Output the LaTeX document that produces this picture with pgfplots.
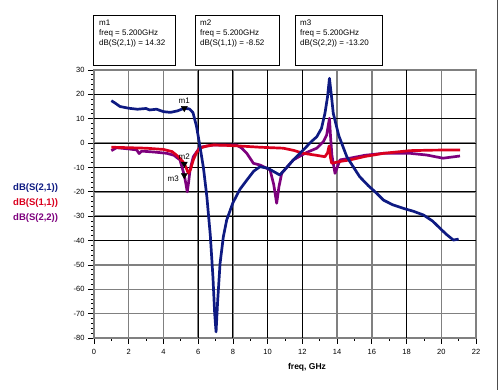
\documentclass[border=0pt]{standalone}
\usepackage{pgfplots}
\pgfplotsset{compat=1.18}
\usepackage{fontspec}
\setmainfont{Liberation Sans}
\definecolor{sblue}{RGB}{14,26,130}
\definecolor{sred}{RGB}{218,0,30}
\definecolor{spurple}{RGB}{125,0,125}
\definecolor{grgray}{RGB}{128,128,128}
\begin{document}
\begin{tikzpicture}
\useasboundingbox (0pt,0pt) rectangle (500pt,390pt);
\begin{axis}[
  at={(94pt,52pt)}, anchor=south west,
  scale only axis, width=382pt, height=268pt,
  xmin=0, xmax=22, ymin=-80, ymax=30,
  xtick={0,2,...,22}, ytick={-80,-70,...,30},
  minor x tick num=1, minor y tick num=4,
  xtick pos=bottom, ytick pos=left,
  tick align=outside,
  major tick length=6pt, minor tick length=3pt,
  tick style={black, line width=0.8pt},
  grid=major,
  major grid style={grgray, line width=1.4pt},
  axis line style={grgray, line width=1.6pt},
  extra x ticks={6,8,10,12,18}, extra x tick labels={},
  extra y ticks={20,10,0,-10,-20,-30,-40}, extra y tick labels={},
  extra tick style={grid=major, major grid style={black, line width=1pt}, major tick length=0pt},
  ticklabel style={font=\fontsize{7.5}{8}\selectfont},
  /pgf/number format/assume math mode=true,
  xticklabel style={yshift=-2pt},
  clip=true,
]
\addplot[spurple, line width=2.7pt, line join=round] coordinates {
(1.0,-3.1) (1.3,-1.9) (2.0,-2.4) (2.46,-2.8) (2.6,-4.3) (2.75,-3.3) (3.5,-3.7) (4.19,-4.2) (4.6,-5) (4.95,-6.9) (5.2,-13.2) (5.3,-17) (5.37,-20) (5.45,-16) (5.53,-11) (5.72,-5.6) (6.1,-1.7) (6.87,-0.8) (8.2,-0.8) (8.5,-2) (8.8,-4.2) (9.18,-8.3) (9.56,-9) (10.14,-11) (10.35,-17) (10.52,-24.7) (10.65,-18) (10.81,-12.4) (11.48,-6.9) (12.2,-4) (12.83,-2.1) (13.2,0.5) (13.4,3.3) (13.56,10.2) (13.62,3) (13.7,-5) (13.88,-12.4) (14.17,-6.9) (14.75,-6.2) (15.6,-5) (16.67,-4.2) (18.2,-4.2) (19.16,-4.9) (20.1,-6.2) (21.08,-5.3)
};
\addplot[sred, line width=2.7pt, line join=round] coordinates {
(1.0,-1.7) (2.0,-1.9) (3.0,-2.1) (4.0,-2.6) (4.5,-3.5) (4.86,-5.6) (5.1,-7.5) (5.2,-8.52) (5.3,-10) (5.43,-12.4) (5.55,-11) (5.72,-6.9) (5.9,-4) (6.1,-2.1) (6.5,-1.2) (6.87,-0.8) (7.5,-0.9) (8.4,-1.2) (9.56,-1.7) (10.9,-2.1) (11.5,-3) (12.06,-4.2) (12.8,-5) (13.3,-5.6) (13.45,-4) (13.54,-1.2) (13.62,-6) (13.69,-8.3) (14.2,-7.5) (14.75,-6.9) (15.6,-5.5) (16.67,-4.2) (18.2,-3.1) (19.5,-2.9) (21.08,-2.8)
};
\addplot[sblue, line width=2.7pt, line join=round] coordinates {
(1.0,17.4) (1.2,16.5) (1.5,15.0) (2.0,14.3) (2.5,13.9) (3.0,14.2) (3.2,13.6) (3.6,13.9) (4.0,12.9) (4.4,12.6) (4.8,13.2) (5.2,14.32) (5.5,14.0) (5.7,12.5) (5.9,7) (6.07,0) (6.3,-10) (6.5,-22) (6.7,-38) (6.85,-55) (6.95,-70) (7.03,-77.5) (7.12,-65) (7.26,-49.4) (7.45,-38.4) (7.64,-31.6) (8.0,-24.5) (8.4,-19) (8.8,-15.2) (9.2,-11.5) (9.56,-9.7) (10.0,-10.3) (10.3,-11.5) (10.7,-13.1) (11.1,-10) (11.48,-6.9) (12.06,-2.8) (12.5,0.5) (12.83,2.6) (13.1,6) (13.3,12.2) (13.45,19) (13.56,26.6) (13.68,19) (13.78,12.2) (14.1,3) (14.56,-5.6) (15.0,-10.5) (15.3,-13.8) (15.8,-17.5) (16.28,-20.6) (16.67,-23.4) (17.2,-25.3) (17.82,-26.8) (18.4,-28) (18.97,-29.5) (19.5,-32) (19.93,-35) (20.3,-37.5) (20.7,-39.8) (21.0,-39.4)
};
\addplot[only marks, mark=triangle*, mark size=3.5pt, mark options={rotate=180, fill=black, draw=black},
  nodes near coords={m1}, every node near coord/.append style={font=\fontsize{8}{8}\selectfont, anchor=south, yshift=1pt}]
  coordinates {(5.2,14.32)};
\addplot[only marks, mark=triangle*, mark size=3.5pt, mark options={rotate=180, fill=black, draw=black},
  nodes near coords={m2}, every node near coord/.append style={font=\fontsize{8}{8}\selectfont, anchor=south, yshift=1pt}]
  coordinates {(5.2,-8.52)};
\addplot[only marks, mark=triangle*, mark size=3.5pt, mark options={rotate=180, fill=black, draw=black},
  nodes near coords={m3}, every node near coord/.append style={font=\fontsize{8}{8}\selectfont, anchor=east, xshift=-2pt, yshift=-4pt}]
  coordinates {(5.2,-13.2)};
\end{axis}
% marker readout boxes
\draw[black, line width=0.8pt] (93pt,325pt) rectangle (175pt,375pt);
\draw[black, line width=0.8pt] (195pt,325pt) rectangle (279pt,375pt);
\draw[black, line width=0.8pt] (295pt,325pt) rectangle (382pt,375pt);
\node[anchor=north west, align=left, inner sep=0pt, font=\fontsize{8}{10}\selectfont] at (99pt,370pt) {m1\\freq = 5.200GHz\\dB(S(2,1)) = 14.32};
\node[anchor=north west, align=left, inner sep=0pt, font=\fontsize{8}{10}\selectfont] at (200pt,370pt) {m2\\freq = 5.200GHz\\dB(S(1,1)) = -8.52};
\node[anchor=north west, align=left, inner sep=0pt, font=\fontsize{8}{10}\selectfont] at (300pt,370pt) {m3\\freq = 5.200GHz\\dB(S(2,2)) = -13.20};
% trace labels
\node[anchor=west, inner sep=0pt, text=sblue, font=\bfseries\fontsize{9.5}{10}\selectfont] at (13pt,202pt) {dB(S(2,1))};
\node[anchor=west, inner sep=0pt, text=sred, font=\bfseries\fontsize{9.5}{10}\selectfont] at (13pt,187pt) {dB(S(1,1))};
\node[anchor=west, inner sep=0pt, text=spurple, font=\bfseries\fontsize{9.5}{10}\selectfont] at (13pt,172pt) {dB(S(2,2))};
% x label
\node[inner sep=0pt, font=\bfseries\fontsize{8.5}{10}\selectfont] at (307pt,23pt) {freq, GHz};
\draw[grgray!60!black, line width=0.8pt] (497.5pt,0pt) -- (497.5pt,390pt);
\end{tikzpicture}
\end{document}
